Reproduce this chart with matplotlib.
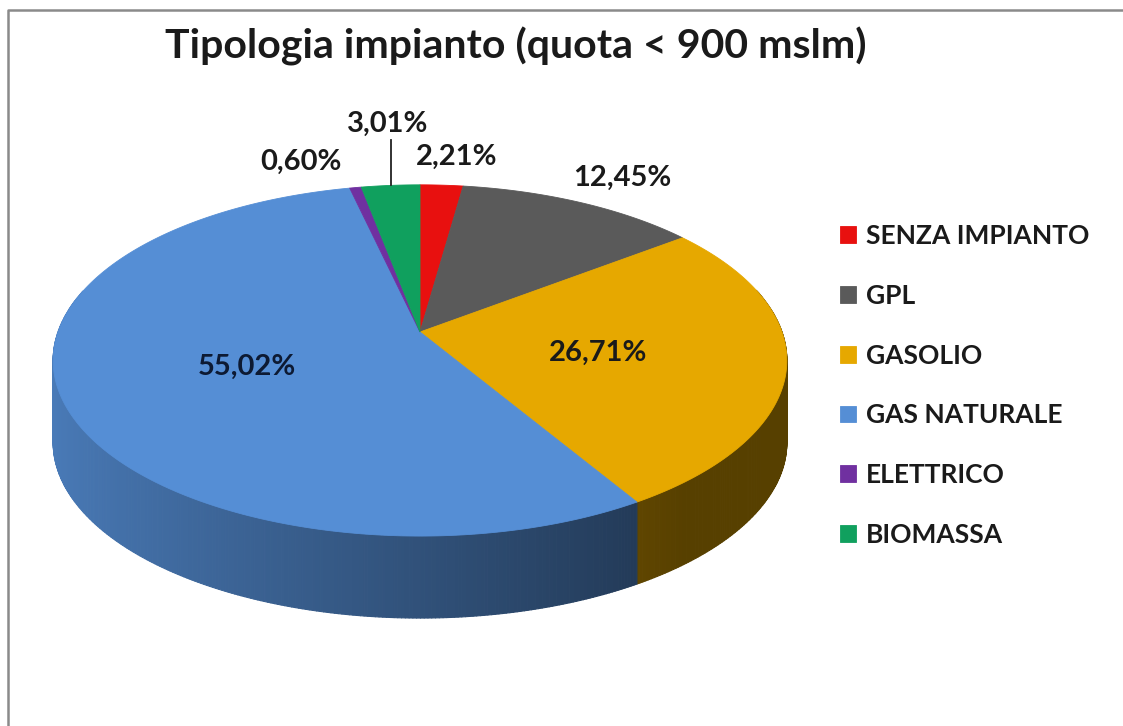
import numpy as np
import matplotlib
matplotlib.use("Agg")
import matplotlib.pyplot as plt
from matplotlib.patches import Polygon
from matplotlib.collections import PolyCollection
from matplotlib.colors import to_rgb

# ---- data ----
categories = ["SENZA IMPIANTO", "GPL", "GASOLIO", "GAS NATURALE", "ELETTRICO", "BIOMASSA"]
values = [2.21, 12.45, 26.71, 55.02, 0.60, 3.01]
label_texts = ["2,21%", "12,45%", "26,71%", "55,02%", "0,60%", "3,01%"]
colors = ["#e8100f", "#5a5a5a", "#e6a800", "#558ed5", "#7030a0", "#10a05e"]
title = "Tipologia impianto (quota < 900 mslm)"

# ---- layout (pixel-like units, y down) ----
W, H = 1123, 726
cx, cy = 420, 332          # apex of the pie
rx, a, k = 362, 171, 0.162 # radii and perspective factor
depth = 82                 # side thickness
label_pos = [(457, 157), (622, 178), (598, 353), (247, 367), (301, 162), (388, 124)]
FONT = "Lato"

fig = plt.figure(figsize=(W / 100, H / 100), dpi=100)
ax = fig.add_axes([0, 0, 1, 1])
ax.set_xlim(0, W)
ax.set_ylim(H, 0)
ax.axis("off")


def P(theta):
    s, c = np.sin(theta), np.cos(theta)
    d = 1 + k * s
    return cx + rx * c / d, cy - a * s / d


total = float(sum(values))
cum = np.concatenate([[0], np.cumsum(values)]) / total
th_start = np.deg2rad(90 - 360 * cum[:-1])
th_end = np.deg2rad(90 - 360 * cum[1:])

# ---- sides ----
strips, scols, keys = [], [], []
for i in range(len(values)):
    n = max(4, int(abs(th_end[i] - th_start[i]) / np.deg2rad(0.5)))
    ts = np.linspace(th_start[i], th_end[i], n + 1)
    base = np.array(to_rgb(colors[i]))
    for t0, t1 in zip(ts[:-1], ts[1:]):
        tm = 0.5 * (t0 + t1)
        if np.sin(tm) > 0.25:
            continue
        x0, y0 = P(t0)
        x1, y1 = P(t1)
        strips.append([(x0, y0), (x1, y1), (x1, y1 + depth), (x0, y0 + depth)])
        f = max(0.38, 0.57 - 0.3 * np.cos(tm))
        scols.append(tuple(base * f))
        keys.append(-np.sin(tm))
order = np.argsort(keys)
pc = PolyCollection([strips[j] for j in order], facecolors=[scols[j] for j in order],
                    edgecolors=[scols[j] for j in order], linewidths=0.8)
ax.add_collection(pc)

# ---- top surface ----
handles = []
for i in range(len(values)):
    n = max(4, int(abs(th_end[i] - th_start[i]) / np.deg2rad(0.5)))
    ts = np.linspace(th_start[i], th_end[i], n + 1)
    xs, ys = P(ts)
    pts = [(cx, cy)] + list(zip(xs, ys))
    poly = Polygon(pts, closed=True, facecolor=colors[i], edgecolor=colors[i], linewidth=0.6)
    ax.add_patch(poly)
    handles.append(poly)

# ---- data labels ----
for i, (txt, (lx, ly)) in enumerate(zip(label_texts, label_pos)):
    ax.text(lx, ly, txt, ha="center", va="center", fontsize=21, fontweight="bold",
            family=FONT, color="#1a1a1a" if i != 3 else "#0d1a33")

# leader line for the small BIOMASSA slice
tm = 0.5 * (th_start[5] + th_end[5])
lx0, ly0 = P(tm)
ax.plot([lx0, lx0], [ly0, label_pos[5][1] + 16], color="#222222", lw=1.3)

# ---- title ----
ax.text(516, 46, title, ha="center", va="center", fontsize=29.5, fontweight="bold",
        family=FONT, color="#1a1a1a")

# ---- legend ----
leg = ax.legend(handles, categories, loc="upper left", bbox_to_anchor=(840, 224),
                bbox_transform=ax.transData, frameon=False, handlelength=0.6,
                handleheight=0.6, handletextpad=0.38, labelspacing=1.355,
                borderpad=0, borderaxespad=0,
                prop=dict(family=FONT, weight="bold", size=19))
for t in leg.get_texts():
    t.set_color("#1a1a1a")

# ---- chart border (partially cropped) ----
ax.plot([8, 8, W + 5], [H + 5, 10, 10], color="#8a8a8a", lw=1.8, clip_on=False)

fig.savefig("out.png", dpi=100)
